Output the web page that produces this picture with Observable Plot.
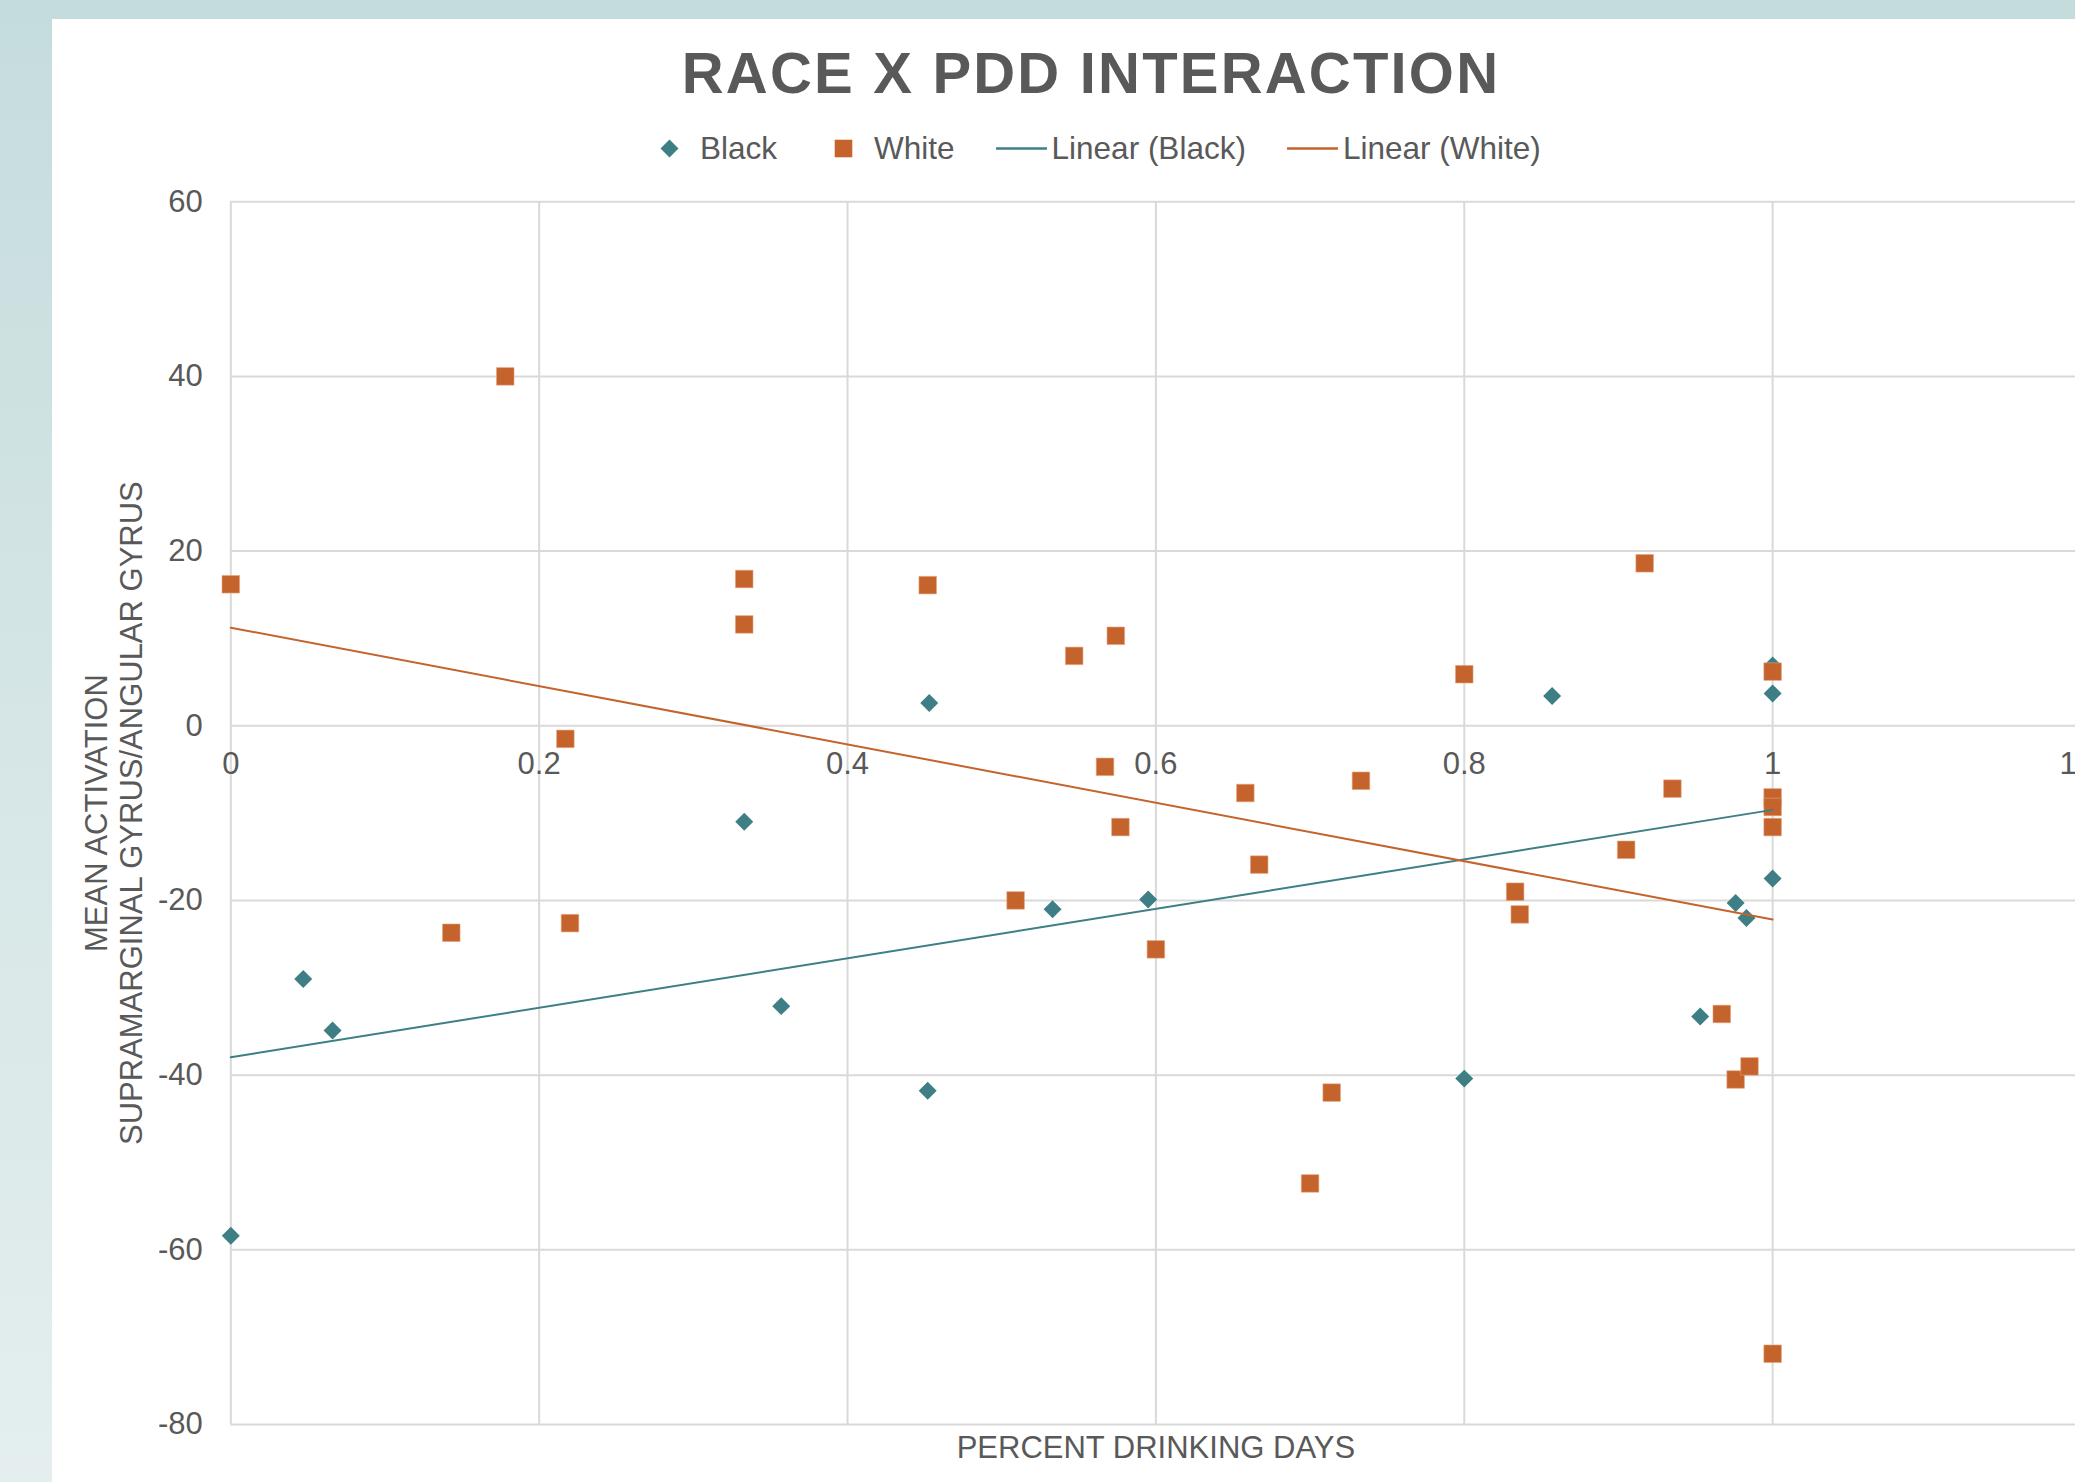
<!DOCTYPE html>
<html>
<head>
<meta charset="utf-8">
<script src="https://cdn.jsdelivr.net/npm/d3@7"></script>
<script src="https://cdn.jsdelivr.net/npm/@observablehq/plot@0.6"></script>
<style>
  html, body { margin: 0; padding: 0; width: 2075px; height: 1482px; overflow: hidden; background: #ffffff; }
  body { position: relative; font-family: "Liberation Sans", Arial, sans-serif; }
  #bandTop { position: absolute; left: 0; top: 0; width: 2075px; height: 19px; background: #c5dcdd; }
  #bandLeft { position: absolute; left: 0; top: 0; width: 52px; height: 1482px;
              background: linear-gradient(to bottom, #c5dcdd 0%, #d6e6e6 50%, #e4eeee 100%); }
  #title { position: absolute; left: 0; top: 44px; width: 2182px; text-align: center;
           font-size: 58px; line-height: 58px; font-weight: bold; color: #595959; letter-spacing: 2.2px; }
  #legend { position: absolute; left: 644px; top: 133px; height: 31px; display: flex; align-items: center;
            font-size: 31.5px; line-height: 31px; color: #595959; white-space: nowrap; }
  .item { display: flex; align-items: center; margin-right: 41px; }
  .item svg { width: 51px; height: 31px; margin-right: 5px; }
  #chart { position: absolute; left: 0; top: 170px; width: 2120px; height: 1312px; }
  #chart svg { max-width: none !important; }
</style>
</head>
<body>
<div id="bandTop"></div>
<div id="bandLeft"></div>
<div id="title"></div>
<div id="legend"></div>
<div id="chart"></div>
<script>
// ---- data ----
const titleText = "RACE X PDD INTERACTION";
const seriesNames = ["Black", "White"];
const trendNames = ["Linear (Black)", "Linear (White)"];
const xLabel = "PERCENT DRINKING DAYS";
const yLabel = "MEAN ACTIVATION\nSUPRAMARGINAL GYRUS/ANGULAR GYRUS";

const xTicks = [0, 0.2, 0.4, 0.6, 0.8, 1, 1.2];
const xTickLabels = ["0", "0.2", "0.4", "0.6", "0.8", "1", "1.2"];
const yTicks = [60, 40, 20, 0, -20, -40, -60, -80];

const blackX = [0, 0.047, 0.066, 0.333, 0.357, 0.453, 0.452, 0.533, 0.595, 0.8, 0.857, 0.953, 0.976, 0.983, 1, 1, 1];
const blackY = [-58.4, -29.0, -34.9, -11.0, -32.1, 2.6, -41.8, -21.0, -19.9, -40.4, 3.4, -33.3, -20.3, -22.0, 6.9, 3.7, -17.5];

const whiteX = [0, 0.178, 0.217, 0.143, 0.220, 0.333, 0.333, 0.452, 0.547, 0.574, 0.567, 0.577, 0.509, 0.600, 0.658, 0.667, 0.733, 0.700, 0.714, 0.8, 0.833, 0.836, 0.917, 0.905, 0.935, 0.967, 0.976, 0.985, 1, 1, 1, 1, 1];
const whiteY = [16.2, 40.0, -1.5, -23.7, -22.6, 16.8, 11.6, 16.1, 8.0, 10.3, -4.7, -11.6, -20.0, -25.6, -7.7, -15.9, -6.3, -52.4, -42.0, 5.9, -19.0, -21.6, 18.6, -14.2, -7.2, -33.0, -40.5, -39.0, 6.2, -8.2, -9.3, -11.6, -71.9];

// trendline endpoints
const trendX = [0, 1];
const blackTrendY = [-37.95, -9.63];
const whiteTrendY = [11.23, -22.19];

// ---- styles ----
const teal = "#3e7f86";
const orange = "#c4632c";
const grid = "#d9d9d9";
const textColor = "#595959";

// ---- tables ----
const black = blackX.map((x, i) => ({x, y: blackY[i]}));
const white = whiteX.map((x, i) => ({x, y: whiteY[i]}));
const blackTrend = trendX.map((x, i) => ({x, y: blackTrendY[i]}));
const whiteTrend = trendX.map((x, i) => ({x, y: whiteTrendY[i]}));
const xTickData = xTicks.map((v, i) => ({v, label: xTickLabels[i]}));

// title
document.getElementById("title").textContent = titleText;

// legend
const legend = document.getElementById("legend");
const legendItems = [
  {name: seriesNames[0], sym: `<path d="M25.5,6.5 L34.5,15.5 L25.5,24.5 L16.5,15.5 Z" fill="${teal}"/>`},
  {name: seriesNames[1], sym: `<rect x="16.7" y="6.7" width="17.6" height="17.6" fill="${orange}"/>`},
  {name: trendNames[0], sym: `<line x1="0" x2="51" y1="15.5" y2="15.5" stroke="${teal}" stroke-width="2.5"/>`},
  {name: trendNames[1], sym: `<line x1="0" x2="51" y1="15.5" y2="15.5" stroke="${orange}" stroke-width="2.5"/>`}
];
for (const it of legendItems) {
  const d = document.createElement("div");
  d.className = "item";
  d.innerHTML = `<svg viewBox="0 0 51 31">${it.sym}</svg><span>${it.name}</span>`;
  legend.appendChild(d);
}

// chart
const chart = Plot.plot({
  width: 2120,
  height: 1312,
  marginLeft: 230.3,
  marginRight: 39.5,
  marginTop: 31.2,
  marginBottom: 58,
  style: {fontFamily: "'Liberation Sans', Arial, sans-serif", fontSize: "31px", color: textColor, background: "transparent", overflow: "visible", maxWidth: "none"},
  x: {domain: [0, 1.2], axis: null},
  y: {domain: [-80, 60], axis: null},
  marks: [
    Plot.gridX(xTicks, {stroke: grid, strokeOpacity: 1, strokeWidth: 2}),
    Plot.gridY(yTicks, {stroke: grid, strokeOpacity: 1, strokeWidth: 2}),
    Plot.axisY(yTicks, {tickSize: 0, tickPadding: 28, tickFormat: d => String(d), fill: textColor, label: null}),
    Plot.text(xTickData, {x: "v", y: () => 0, text: "label", dy: 38, fill: textColor}),
    Plot.dot(black, {x: "x", y: "y", symbol: "diamond2", r: 8.1, fill: teal, stroke: null}),
    Plot.dot(white, {x: "x", y: "y", symbol: "square", r: 9.9, fill: orange, stroke: "#e8a27a", strokeWidth: 0.6}),
    Plot.line(blackTrend, {x: "x", y: "y", stroke: teal, strokeWidth: 2}),
    Plot.line(whiteTrend, {x: "x", y: "y", stroke: orange, strokeWidth: 2}),
    Plot.text([xLabel], {frameAnchor: "bottom", text: d => d, dy: 24, lineAnchor: "middle", fill: textColor}),
    Plot.text([yLabel], {frameAnchor: "left", text: d => d, rotate: -90, dx: -118, textAnchor: "middle", lineAnchor: "middle", lineHeight: 1.13, fill: textColor})
  ]
});
document.getElementById("chart").appendChild(chart);
</script>
</body>
</html>
